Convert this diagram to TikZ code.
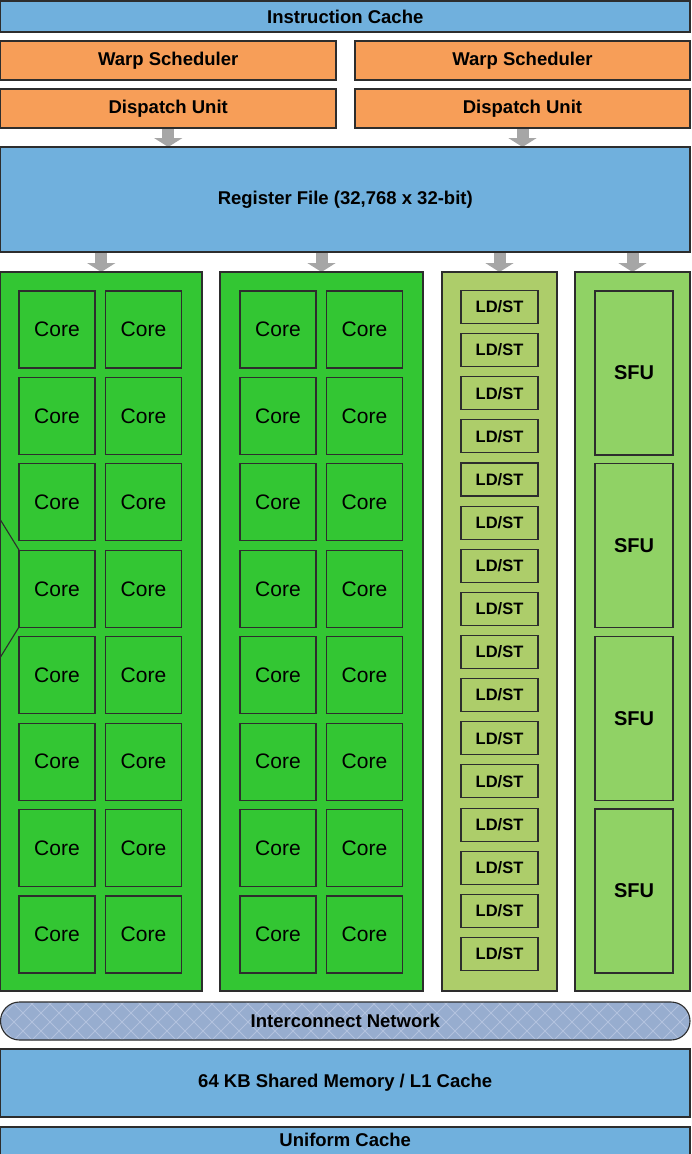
\documentclass[tikz,border=0pt]{standalone}
\usepackage{fontspec}
\setmainfont{Liberation Sans}
\usetikzlibrary{arrows.meta}
\definecolor{blueC}{RGB}{112,176,221}
\definecolor{orangeC}{RGB}{247,158,88}
\definecolor{greenC}{RGB}{51,198,51}
\definecolor{ldstC}{RGB}{173,205,106}
\definecolor{sfuC}{RGB}{144,210,101}
\definecolor{netC}{RGB}{151,173,207}
\definecolor{netLineC}{RGB}{178,194,222}
\definecolor{arrowC}{RGB}{166,166,166}
\definecolor{borderC}{RGB}{45,45,45}
\pgfdeclarelayer{bg}
\pgfsetlayers{bg,main}
\begin{document}
\begin{tikzpicture}[x=1pt,y=-1pt,
  box/.style={draw=borderC, line width=1.1pt, inner sep=0pt, outer sep=0pt, text=black,
    font=\bfseries\fontsize{18.5}{20}\selectfont},
  colbox/.style={draw=borderC, line width=1.1pt},
  corebox/.style={draw=borderC, line width=1.1pt, fill=greenC, inner sep=0pt, outer sep=0pt,
    minimum width=76pt, minimum height=77pt, font=\fontsize{21}{23}\selectfont},
  ldstbox/.style={draw=borderC, line width=1.1pt, fill=ldstC, inner sep=0pt, outer sep=0pt,
    minimum width=77pt, minimum height=33pt, font=\bfseries\fontsize{16.5}{18}\selectfont},
  sfubox/.style={draw=borderC, line width=1.1pt, fill=sfuC, inner sep=0pt, outer sep=0pt,
    minimum width=78pt, minimum height=164pt, font=\bfseries\fontsize{20}{22}\selectfont},
  blockarrow/.style={draw=arrowC, line width=12pt, -{Triangle[width=28pt,length=9pt]}}
]
\useasboundingbox (0,0) rectangle (692,1154);
\clip (0,0) rectangle (692,1154);

% top
\node[box, fill=blueC, minimum width=689.5pt, minimum height=31pt] (ic) at (345.25,16.5) {Instruction Cache};
\node[box, fill=orangeC, minimum width=335.5pt, minimum height=39pt] (ws1) at (168.25,60.5) {Warp Scheduler};
\node[box, fill=orangeC, minimum width=335pt, minimum height=39pt] (ws2) at (522.5,60.5) {Warp Scheduler};
\node[box, fill=orangeC, minimum width=335.5pt, minimum height=39pt] (du1) at (168.25,108.5) {Dispatch Unit};
\node[box, fill=orangeC, minimum width=335pt, minimum height=39pt] (du2) at (522.5,108.5) {Dispatch Unit};
\node[box, fill=blueC, minimum width=689.5pt, minimum height=105pt] (rf) at (345.25,199.5) {Register File (32,768 x 32-bit)};

% columns
\node[colbox, fill=greenC, minimum width=201.5pt, minimum height=719pt, inner sep=0pt, outer sep=0pt] (c1) at (101.25,631.5) {};
\node[colbox, fill=greenC, minimum width=203pt, minimum height=719pt, inner sep=0pt, outer sep=0pt] (c2) at (321.5,631.5) {};
\node[colbox, fill=ldstC, minimum width=115pt, minimum height=719pt, inner sep=0pt, outer sep=0pt] (c3) at (499.5,631.5) {};
\node[colbox, fill=sfuC, minimum width=115pt, minimum height=719pt, inner sep=0pt, outer sep=0pt] (c4) at (632.5,631.5) {};

% partial shape at left edge
\coordinate (h1) at (0.5,520);
\coordinate (h2) at (19,550);
\coordinate (h3) at (19,627);
\coordinate (h4) at (0.5,657);
\draw[draw=borderC, line width=1.1pt] (h1) -- (h2) -- (h3) -- (h4);

% cores
\foreach \r in {0,...,7} {
  \pgfmathsetmacro{\yy}{329.5+86.43*\r}
  \node[corebox] (ca\r) at (57,\yy) {Core};
  \node[corebox] (cb\r) at (143.5,\yy) {Core};
  \node[corebox] (cc\r) at (278,\yy) {Core};
  \node[corebox] (cd\r) at (364.5,\yy) {Core};
}
% LD/ST
\foreach \r in {0,...,15} {
  \pgfmathsetmacro{\yy}{307+43.13*\r}
  \node[ldstbox] (ls\r) at (499.5,\yy) {LD/ST};
}
% SFU
\foreach \r in {0,...,3} {
  \pgfmathsetmacro{\yy}{373+172.67*\r}
  \node[sfubox] (sf\r) at (634,\yy) {SFU};
}

% arrows
\begin{pgfonlayer}{bg}
\draw[blockarrow] (du1.south) -- (du1.south |- rf.north);
\draw[blockarrow] (du2.south) -- (du2.south |- rf.north);
\draw[blockarrow] (rf.south -| c1.north) -- (c1.north);
\draw[blockarrow] (rf.south -| c2.north) -- (c2.north);
\draw[blockarrow] (rf.south -| c3.north) -- (c3.north);
\draw[blockarrow] (rf.south -| c4.north) -- (c4.north);
\end{pgfonlayer}

% interconnect network
\begin{scope}
\clip[rounded corners=19pt] (0.5,1002) rectangle (690,1040);
\fill[netC] (0,1000) rectangle (692,1042);
\foreach \k in {-60,-42,...,720} {
  \draw[netLineC, line width=0.9pt] (\k,1002) -- ++(40,40);
  \draw[netLineC, line width=0.9pt] (\k,1042) -- ++(40,-40);
}
\end{scope}
\node[box, rounded corners=19pt, minimum width=689.5pt, minimum height=38pt] (net) at (345.25,1021) {Interconnect Network};

% bottom
\node[box, fill=blueC, minimum width=689.5pt, minimum height=68pt] (sm) at (345.25,1083) {64 KB Shared Memory / L1 Cache};
\draw[borderC, line width=1.1pt, fill=blueC] (0.5,1127) rectangle (690,1175);
\node[inner sep=0pt, font=\bfseries\fontsize{18.5}{20}\selectfont] (uc) at (345.25,1140) {Uniform Cache};
\end{tikzpicture}
\end{document}
